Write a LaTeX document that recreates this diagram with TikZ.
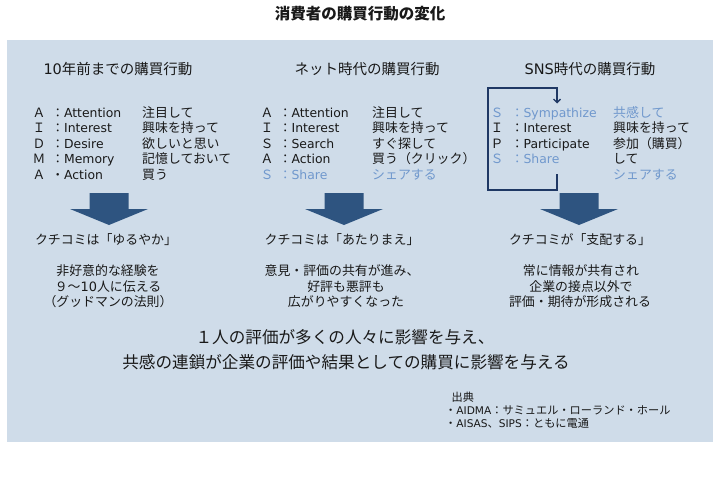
\documentclass[tikz,border=0pt]{standalone}
\usepackage{fontspec}
\setmainfont{DejaVu Sans}
\newfontfamily\jp{Noto Sans CJK JP}
\usetikzlibrary{arrows.meta}
\definecolor{bg}{RGB}{207,220,233}
\definecolor{arrowblue}{RGB}{46,84,128}
\definecolor{navy}{RGB}{31,56,100}
\definecolor{lblue}{RGB}{112,152,205}
\definecolor{ink}{RGB}{25,25,25}
\newcommand\fsz[1]{\fontsize{#1}{#1}\selectfont}
\begin{document}
\begin{tikzpicture}[x=1pt,y=-1pt,
  base/.style={inner sep=0pt, text=ink},
  ttl/.style={base, anchor=base, font=\jp\bfseries\fsz{15.5}},
  hdr/.style={base, anchor=base, font=\jp\fsz{14.5}},
  let/.style={base, anchor=base, font=\jp\fsz{12.8}},
  wd/.style={base, anchor=base west, font=\fsz{12.4}},
  jw/.style={base, anchor=base west, font=\jp\fsz{12.9}},
  mid/.style={base, anchor=base, font=\jp\fsz{12.9}},
  big/.style={base, anchor=base, font=\jp\fsz{16.6}},
  src/.style={base, anchor=base west, font=\jp\fsz{11.2}},
  lb/.style={text=lblue},
  blk/.style={fill=arrowblue},
  brk/.style={draw=navy, line width=1.3pt}
]
\fill[white] (0,0) rectangle (720,498);
\useasboundingbox (0,0) rectangle (720,498);
\fill[bg] (7,40) rectangle (713,442);

% title
\node[ttl] (title) at (360,19.5) {消費者の購買行動の変化};

% headers
\node[hdr] (h1) at (118,74.4) {{\fontspec{DejaVu Sans}10}年前までの購買行動};
\node[hdr] (h2) at (367,74.4) {ネット時代の購買行動};
\node[hdr] (h3) at (590,74.4) {{\fontspec{DejaVu Sans}SNS}時代の購買行動};

% column 1 : AIDMA
\node[let] (c1l1) at (39,117)   {Ａ};
\node[let] (c1l2) at (39,132.6) {Ｉ};
\node[let] (c1l3) at (39,148.2) {Ｄ};
\node[let] (c1l4) at (39,163.8) {Ｍ};
\node[let] (c1l5) at (39,179.4) {Ａ};
\node[wd] (c1w1) at (51.5,117)   {{\jp ：}Attention};
\node[wd] (c1w2) at (51.5,132.6) {{\jp ：}Interest};
\node[wd] (c1w3) at (51.5,148.2) {{\jp ：}Desire};
\node[wd] (c1w4) at (51.5,163.8) {{\jp ：}Memory};
\node[wd] (c1w5) at (51.5,179.4) {{\jp ・}Action};
\node[jw] (c1j1) at (142,117)   {注目して};
\node[jw] (c1j2) at (142,132.6) {興味を持って};
\node[jw] (c1j3) at (142,148.2) {欲しいと思い};
\node[jw] (c1j4) at (142,163.8) {記憶しておいて};
\node[jw] (c1j5) at (142,179.4) {買う};

% column 2 : AISAS
\node[let] (c2l1) at (267,117)   {Ａ};
\node[let] (c2l2) at (267,132.6) {Ｉ};
\node[let] (c2l3) at (267,148.2) {Ｓ};
\node[let] (c2l4) at (267,163.8) {Ａ};
\node[let,lb] (c2l5) at (267,179.4) {Ｓ};
\node[wd] (c2w1) at (279,117)   {{\jp ：}Attention};
\node[wd] (c2w2) at (279,132.6) {{\jp ：}Interest};
\node[wd] (c2w3) at (279,148.2) {{\jp ：}Search};
\node[wd] (c2w4) at (279,163.8) {{\jp ：}Action};
\node[wd,lb] (c2w5) at (279,179.4) {{\jp ：}Share};
\node[jw] (c2j1) at (372,117)   {注目して};
\node[jw] (c2j2) at (372,132.6) {興味を持って};
\node[jw] (c2j3) at (372,148.2) {すぐ探して};
\node[jw] (c2j4) at (372,163.8) {買う（クリック）};
\node[jw,lb] (c2j5) at (372,179.4) {シェアする};

% column 3 : SIPS
\node[let,lb] (c3l1) at (497,117)   {Ｓ};
\node[let] (c3l2) at (497,132.6) {Ｉ};
\node[let] (c3l3) at (497,148.2) {Ｐ};
\node[let,lb] (c3l4) at (497,163.8) {Ｓ};
\node[wd,lb] (c3w1) at (511,117)   {{\jp ：}Sympathize};
\node[wd] (c3w2) at (511,132.6) {{\jp ：}Interest};
\node[wd] (c3w3) at (511,148.2) {{\jp ：}Participate};
\node[wd,lb] (c3w4) at (511,163.8) {{\jp ：}Share};
\node[jw,lb] (c3j1) at (613,117)   {共感して};
\node[jw] (c3j2) at (613,132.6) {興味を持って};
\node[jw] (c3j3) at (613,148.2) {参加（購買）};
\node[jw] (c3j4) at (613,163.8) {して};
\node[jw,lb] (c3j5) at (613,179.4) {シェアする};

% loop bracket
\coordinate (bs) at (557,174);
\coordinate (bbr) at (557,190);
\coordinate (bbl) at (488,190);
\coordinate (btl) at (488,88);
\coordinate (btr) at (557,88);
\coordinate (be) at (557,103.5);
\draw[brk, -{Straight Barb[length=3.5pt,width=7pt]}] (bs) -- (bbr) -- (bbl) -- (btl) -- (btr) -- (be);

% block arrows
\foreach \cx in {109,344,579}{
  \fill[blk, shift={(\cx,0)}] (-19.5,193) -- (19.5,193) -- (19.5,209) -- (39,209) -- (0,225) -- (-39,209) -- (-19.5,209) -- cycle;
}

% results
\node[mid] (r1) at (106,244.7) {クチコミは「ゆるやか」};
\node[mid] (r1a) at (108,275.7) {非好意的な経験を};
\node[mid] (r1b) at (108,291.2) {９～{\fontspec{DejaVu Sans}10}人に伝える};
\node[mid] (r1c) at (108,306.7) {（グッドマンの法則）};

\node[mid] (r2) at (342,244.7) {クチコミは「あたりまえ」};
\node[mid] (r2a) at (342,275.7) {意見・評価の共有が進み、};
\node[mid] (r2b) at (346,291.2) {好評も悪評も};
\node[mid] (r2c) at (346,306.7) {広がりやすくなった};

\node[mid] (r3) at (580,244.7) {クチコミが「支配する」};
\node[mid] (r3a) at (581,275.7) {常に情報が共有され};
\node[mid] (r3b) at (581,291.2) {企業の接点以外で};
\node[mid] (r3c) at (580,306.7) {評価・期待が形成される};

% conclusion
\node[big] (m1) at (345,343) {１人の評価が多くの人々に影響を与え、};
\node[big] (m2) at (346,368) {共感の連鎖が企業の評価や結果としての購買に影響を与える};

% source
\node[src] (s0) at (451.5,401) {出典};
\node[src] (s1) at (445,414) {・{\fontspec{DejaVu Sans}\fsz{10.6}AIDMA}：サミュエル・ローランド・ホール};
\node[src] (s2) at (445,427) {・{\fontspec{DejaVu Sans}\fsz{10.6}AISAS}、{\fontspec{DejaVu Sans}\fsz{10.6}SIPS}：ともに電通};
\end{tikzpicture}
\end{document}
